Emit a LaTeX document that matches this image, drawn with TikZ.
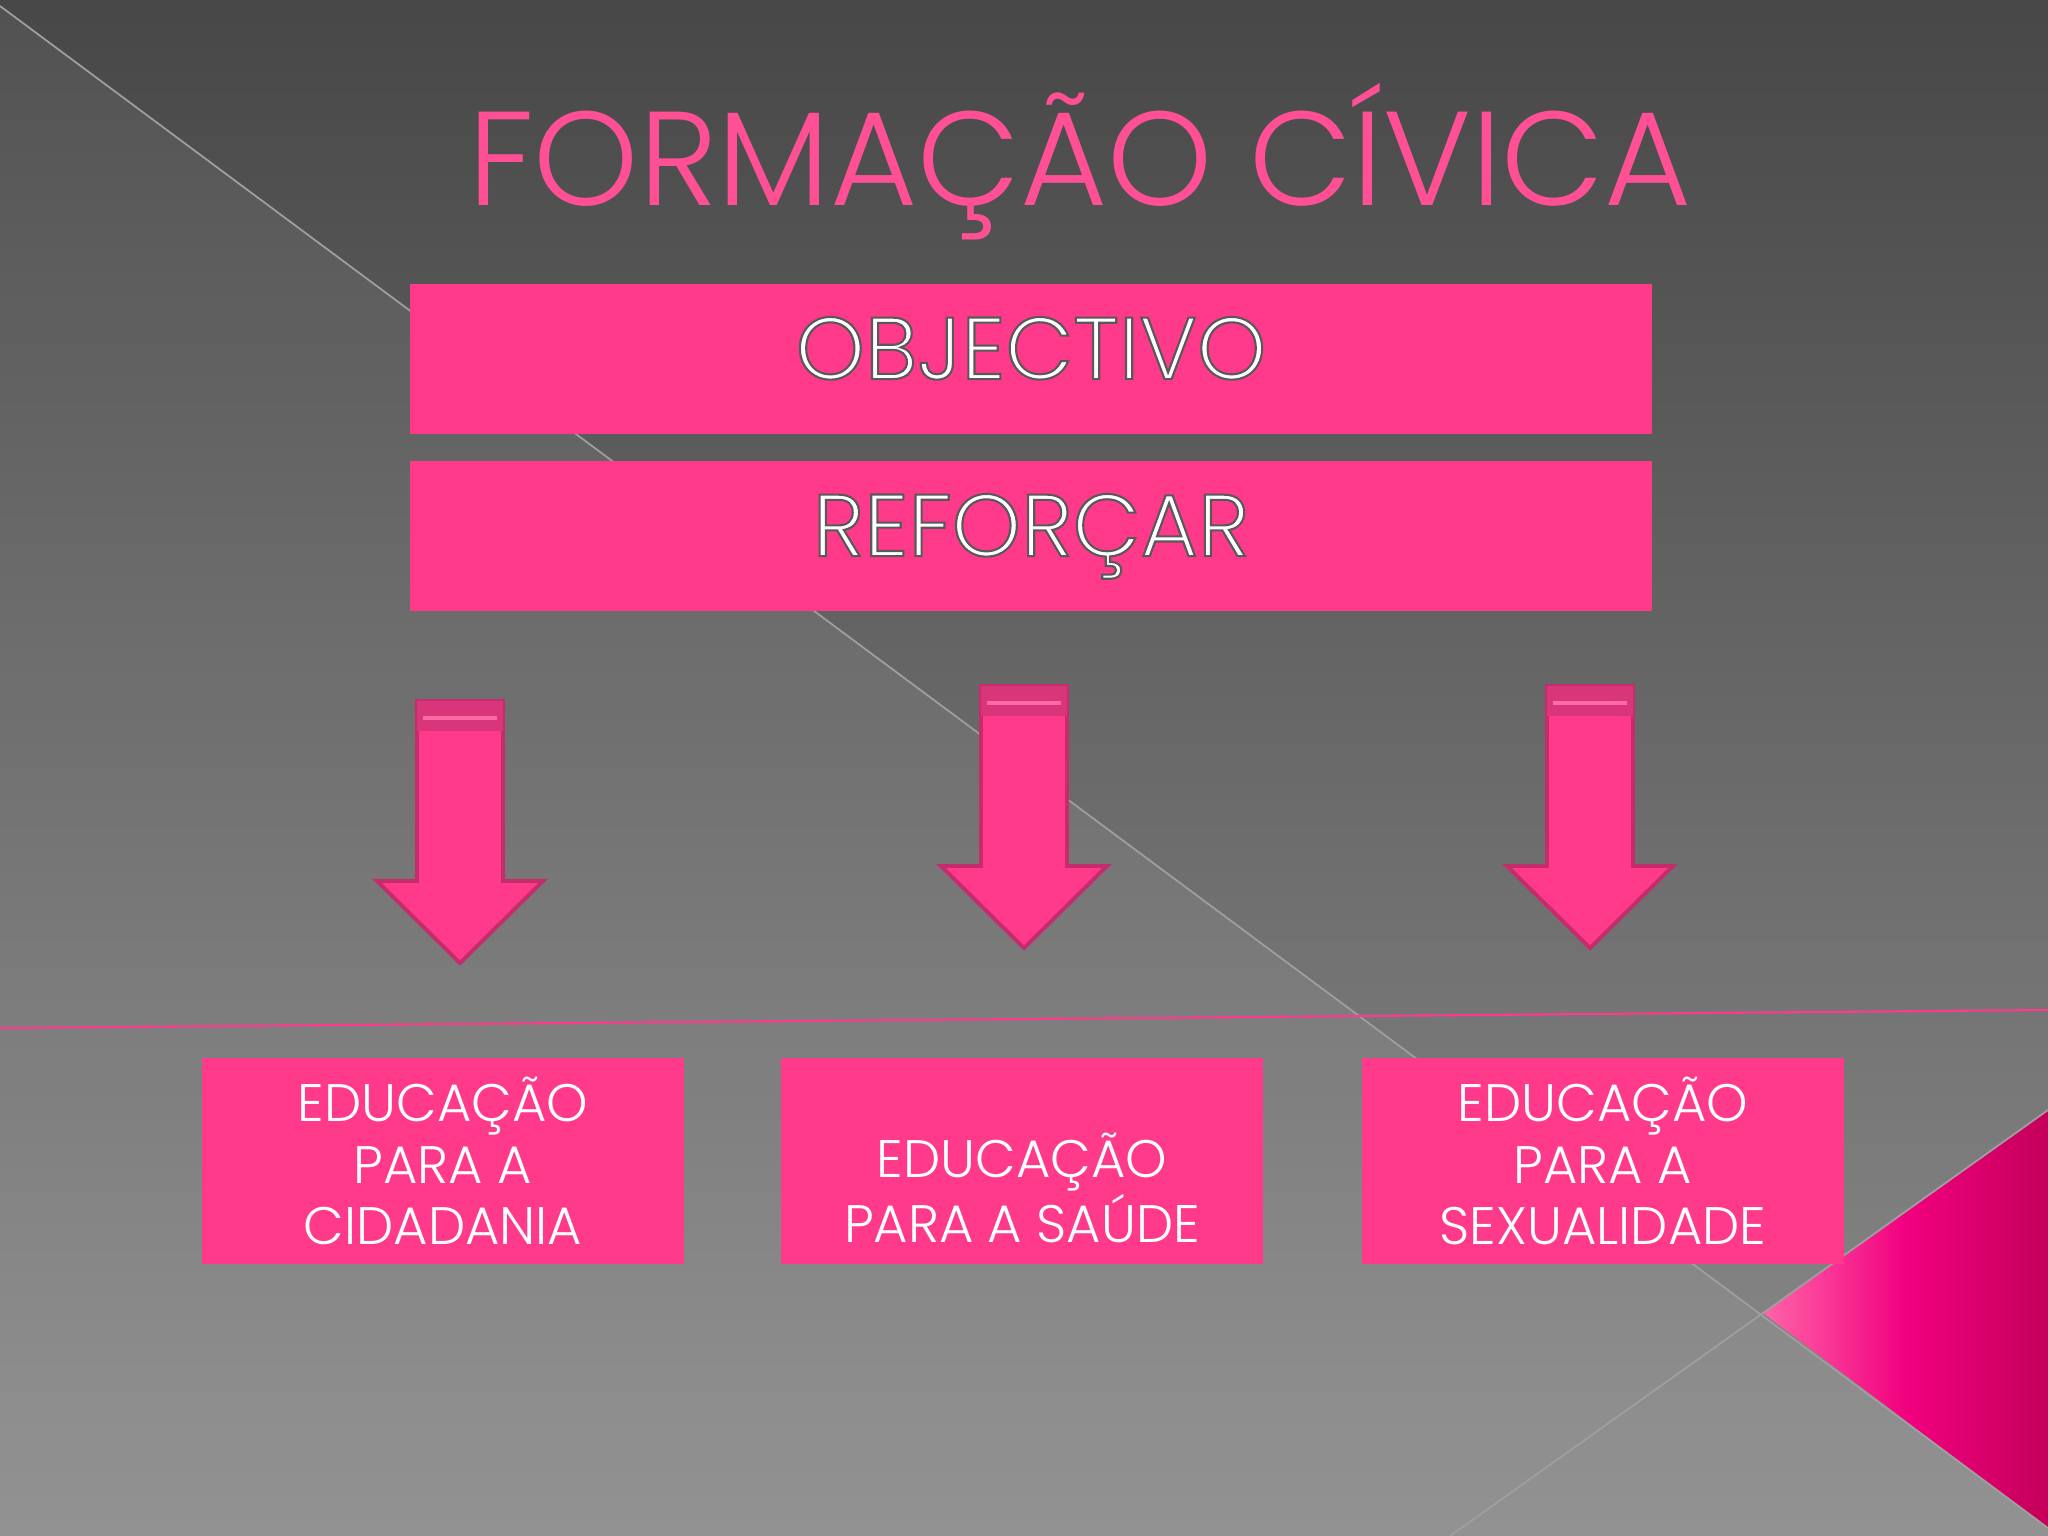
\documentclass[tikz,border=0pt]{standalone}
\usepackage{fontspec}
\setmainfont{Poppins}[UprightFont=* Light]
\usetikzlibrary{calc}

\definecolor{slidepink}{HTML}{FF3A8A}
\definecolor{titlepink}{HTML}{FF5096}
\definecolor{arrowedge}{HTML}{C42C6C}
\definecolor{arrowband}{HTML}{D8357A}
\definecolor{bandstripe}{HTML}{FF6AA6}
\definecolor{tipleft}{HTML}{FF64A8}
\definecolor{tipmid}{HTML}{F2007F}
\definecolor{tipright}{HTML}{C4005A}

% white letters with a thin grey outline
\newcommand\hollow[1]{\special{pdf:literal direct 2 Tr 0.6 w 0.35 0.35 0.35 RG}#1\special{pdf:literal direct 0 Tr}}

\tikzset{
  banner/.style={fill=slidepink, minimum width=12.41cm, minimum height=1.49cm, inner sep=0pt,
    text=white, font=\fontsize{25}{30}\selectfont, text depth=0.22cm},
  edubox/.style={fill=slidepink, minimum width=4.82cm, minimum height=2.06cm, inner sep=0pt,
    text=white, align=center, font=\fontsize{15}{17.4}\selectfont},
  greyline/.style={draw=gray!75, line width=0.5pt},
  arrowline/.style={draw=arrowedge, fill=slidepink, line width=1.1pt, line join=miter},
  darrow/.pic={
    \draw[arrowline] (-43,0) -- (43,0) -- (43,180) -- (83,180) -- (0,262) -- (-83,180) -- (-43,180) -- cycle;
    \fill[arrowband] (-43,0) rectangle (43,30);
    \fill[bandstripe] (-37,15) rectangle (37,19);
  }
}

\begin{document}
\begin{tikzpicture}[x=0.01cm, y=-0.01cm]
\useasboundingbox (0,0) rectangle (2048,1536);
% background
\fill[top color=black!72, bottom color=black!45] (0,0) rectangle (2048,1536);
\fill[white, opacity=0.06] (0,6) -- (2048,1528) -- (2048,1536) -- (0,1536) -- cycle;
\coordinate (X) at (1763,1313);
\shade[left color=tipleft, right color=tipright, middle color=tipmid] (X) -- (2048,1110) -- (2048,1528) -- cycle;
\draw[greyline] (0,6) -- (2048,1528);
\draw[greyline] (1450,1536) -- (2048,1110);
\draw[slidepink, line width=0.6pt] (0,1028) -- (2048,1010);

\node[anchor=base, text=titlepink, font=\fontsize{38}{44}\selectfont] (title) at (1080,205) {FORMAÇÃO CÍVICA};

\node[banner] (obj) at (1031,359) {\hollow{OBJECTIVO}};
\node[banner] (ref) at (1031,536) {\hollow{REFORÇAR}};

\coordinate (a1) at (460,701); \coordinate (a2) at (1024,686); \coordinate (a3) at (1590,686);
\pic at (a1) {darrow};
\pic at (a2) {darrow};
\pic at (a3) {darrow};

\node[edubox] (cid) at (443,1161) {EDUCAÇÃO\\PARA A\\CIDADANIA};
\node[edubox] (sau) at (1022,1161) {\vphantom{E}\\EDUCAÇÃO\\PARA A SAÚDE};
\node[edubox] (sex) at (1603,1161) {EDUCAÇÃO\\PARA A\\SEXUALIDADE};
\end{tikzpicture}
\end{document}
